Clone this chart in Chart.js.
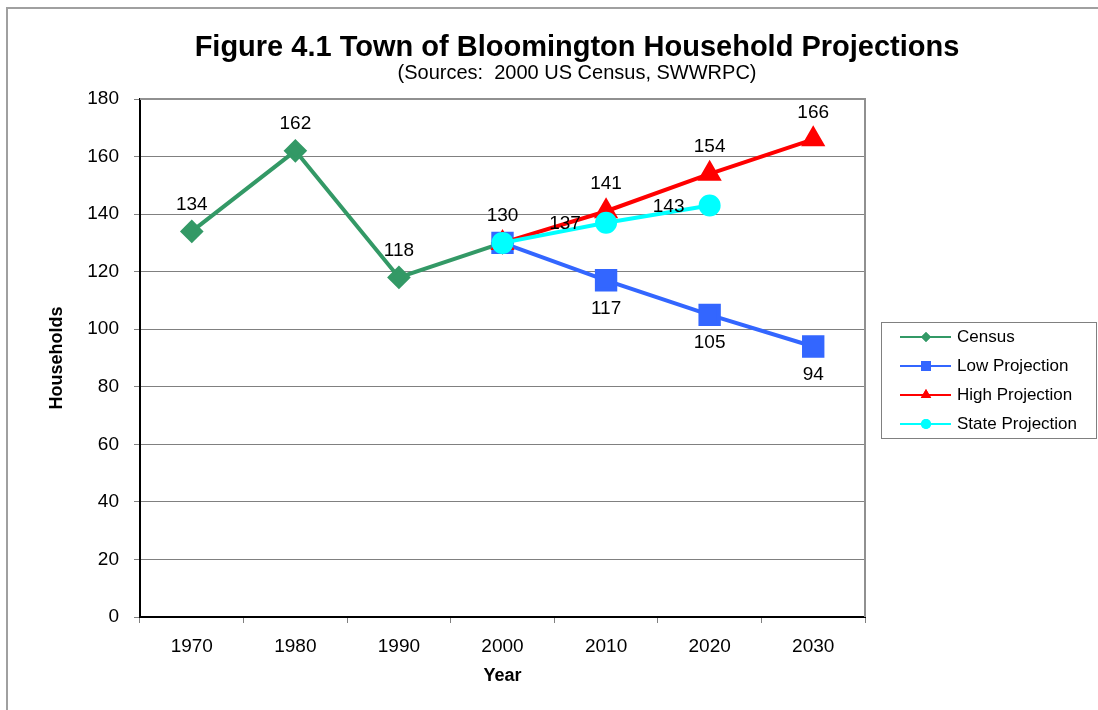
<!DOCTYPE html>
<html><head><meta charset="utf-8">
<script src="https://cdn.jsdelivr.net/npm/chart.js@4/dist/chart.umd.min.js"></script>
<style>html,body{margin:0;padding:0;background:#fff}canvas{display:block}</style>
</head><body>
<canvas id="c" width="1098" height="710"></canvas>
<script>
const years = ['1970','1980','1990','2000','2010','2020','2030'];
const census = [134,162,118,130,null,null,null];
const lowProj = [null,null,null,130,117,105,94];
const highProj = [null,null,null,130,141,154,166];
const stateProj = [null,null,null,130,137,143,null];
const seriesNames = ['Census','Low Projection','High Projection','State Projection'];

const FONT = "'Liberation Sans', Arial, sans-serif";
const labelPos = ['above','below','above','left'];

const frameAndText = {
  id: 'frameAndText',
  beforeDraw(chart) {
    const ctx = chart.ctx;
    ctx.save();
    ctx.fillStyle = '#fff';
    ctx.fillRect(0,0,chart.width,chart.height);
    ctx.strokeStyle = '#a0a0a0';
    ctx.lineWidth = 2;
    ctx.beginPath();
    ctx.moveTo(7, 710); ctx.lineTo(7, 8); ctx.lineTo(1098, 8);
    ctx.stroke();
    ctx.restore();
  },
  afterDraw(chart) {
    const ctx = chart.ctx;
    const a = chart.chartArea;
    ctx.save();
    ctx.strokeStyle = '#909090';
    ctx.lineWidth = 2;
    ctx.beginPath();
    ctx.moveTo(a.left, a.top); ctx.lineTo(a.right, a.top); ctx.lineTo(a.right, a.bottom);
    ctx.stroke();
    ctx.fillStyle = '#000';
    ctx.textAlign = 'center';
    ctx.textBaseline = 'middle';
    ctx.font = "bold 29px " + FONT;
    ctx.fillText('Figure 4.1 Town of Bloomington Household Projections', 577, 48);
    ctx.font = "20px " + FONT;
    ctx.fillText('(Sources:  2000 US Census, SWWRPC)', 577, 73);
    ctx.font = "19px " + FONT;
    chart.data.datasets.forEach((ds, i) => {
      const meta = chart.getDatasetMeta(i);
      ds.data.forEach((v, j) => {
        if (v === null) return;
        if (i > 0 && census[j] !== null) return;
        const el = meta.data[j];
        let x = el.x, y = el.y;
        const pos = labelPos[i];
        if (pos === 'above') { y -= 27; }
        else if (pos === 'below') { y += 28; }
        else { x -= 41; y += 1; }
        ctx.fillText(String(v), x, y);
      });
    });
    ctx.strokeStyle = '#808080';
    ctx.lineWidth = 1;
    ctx.strokeRect(881.5, 322.5, 215, 116);
    ctx.textAlign = 'left';
    ctx.font = "17px " + FONT;
    chart.data.datasets.forEach((ds, i) => {
      const y = 337 + 29 * i;
      ctx.strokeStyle = ds.borderColor;
      ctx.lineWidth = 2;
      ctx.beginPath(); ctx.moveTo(900, y); ctx.lineTo(951, y); ctx.stroke();
      ctx.fillStyle = ds.borderColor;
      Chart.helpers.drawPoint(ctx, {pointStyle: ds.pointStyle, radius: ds.legendRadius, borderWidth: 0, rotation: 0}, 926, y);
      ctx.fill();
      ctx.fillStyle = '#000';
      ctx.fillText(seriesNames[i], 957, y);
    });
    ctx.restore();
  }
};

new Chart(document.getElementById('c'), {
  type: 'line',
  data: {
    labels: years,
    datasets: [
      {label: seriesNames[0], data: census, borderColor: '#339966', backgroundColor: '#339966', borderWidth: 4, pointStyle: 'rectRot', pointRadius: 9, legendRadius: 5, order: 3},
      {label: seriesNames[1], data: lowProj, borderColor: '#3366FF', backgroundColor: '#3366FF', borderWidth: 4, pointStyle: 'rect', pointRadius: 13, legendRadius: 7, order: 2},
      {label: seriesNames[2], data: highProj, borderColor: '#FF0000', backgroundColor: '#FF0000', borderWidth: 4, pointStyle: 'triangle', pointRadius: 10, legendRadius: 6, order: 1},
      {label: seriesNames[3], data: stateProj, borderColor: '#00FFFF', backgroundColor: '#00FFFF', borderWidth: 4, pointStyle: 'circle', pointRadius: 9, legendRadius: 5, order: 0}
    ]
  },
  options: {
    responsive: false,
    animation: false,
    events: [],
    spanGaps: false,
    layout: {padding: {left: 0, right: 233, top: 99, bottom: 0}},
    elements: {line: {tension: 0}, point: {borderWidth: 0, hoverRadius: 0}},
    plugins: {legend: {display: false}, title: {display: false}, tooltip: {enabled: false}},
    scales: {
      x: {
        offset: true,
        afterFit: s => { s.height = 93; },
        grid: {display: true, drawOnChartArea: false, drawTicks: true, tickLength: 6, offset: true, color: '#808080', lineWidth: 1},
        border: {display: true, color: '#000', width: 2},
        ticks: {font: {family: FONT, size: 19}, color: '#000', padding: 12, maxRotation: 0, autoSkip: false},
        title: {display: true, text: 'Year', font: {family: FONT, size: 18, weight: 'bold'}, color: '#000', padding: {top: 23, bottom: 23}}
      },
      y: {
        min: 0, max: 180,
        afterFit: s => { s.width = 140; },
        grid: {color: '#808080', lineWidth: 1, tickLength: 6, drawTicks: true},
        border: {display: true, color: '#000', width: 2},
        ticks: {stepSize: 20, font: {family: FONT, size: 19}, color: '#000', padding: 15},
        title: {display: true, text: 'Households', font: {family: FONT, size: 18, weight: 'bold'}, color: '#000', padding: {top: 46, bottom: 0}}
      }
    }
  },
  plugins: [frameAndText]
});
</script>
</body></html>
